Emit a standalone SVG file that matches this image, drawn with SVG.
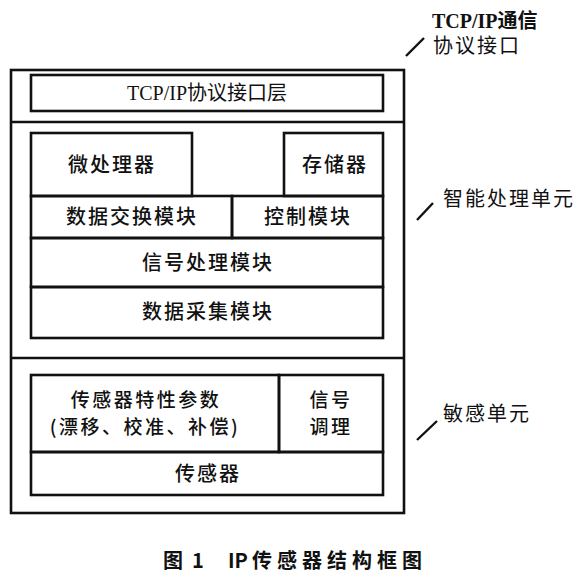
<svg xmlns="http://www.w3.org/2000/svg" width="580" height="580" viewBox="0 0 580 580">
<style>
.box{fill:none;stroke:#111;stroke-width:2.6}
.ln{stroke:#111;stroke-width:2.4;fill:none}
.t{font-family:"Noto Sans CJK SC","Noto Sans",sans-serif;font-size:20px;font-weight:500;fill:#111;text-anchor:middle;letter-spacing:2px}
.t2{font-family:"Noto Sans CJK SC","Noto Sans",sans-serif;font-size:19px;font-weight:500;fill:#111;text-anchor:middle;letter-spacing:2.5px}
.s{font-family:"Liberation Serif","Noto Sans CJK SC",serif;font-size:20px;fill:#111}
.lb{font-family:"Noto Sans CJK SC","Noto Sans",sans-serif;font-size:20px;fill:#111;letter-spacing:2px}
.cap{font-family:"Noto Sans CJK SC","Noto Sans",sans-serif;font-size:20px;font-weight:700;fill:#111}
</style>
<rect width="580" height="580" fill="#fff"/>
<g id="outer">
<rect class="box" x="11" y="70" width="393" height="443"/>
<line class="ln" x1="11" y1="122" x2="404" y2="122"/>
<line class="ln" x1="11" y1="358" x2="404" y2="358"/>
</g>
<g id="tcp-layer">
<rect class="box" x="31" y="75" width="352" height="36"/>
<text class="s" x="207" y="100" text-anchor="middle">TCP/IP协议接口层</text>
</g>
<g id="mcu">
<rect class="box" x="31" y="133" width="161" height="63"/>
<text class="t" x="112" y="172">微处理器</text>
</g>
<g id="memory">
<rect class="box" x="284" y="133" width="99" height="63"/>
<text class="t" x="335" y="172">存储器</text>
</g>
<g id="data-exchange">
<rect class="box" x="31" y="196" width="201" height="42"/>
<text class="t" x="132" y="224">数据交换模块</text>
</g>
<g id="control">
<rect class="box" x="232" y="196" width="151" height="42"/>
<text class="t" x="308" y="224">控制模块</text>
</g>
<g id="signal-proc">
<rect class="box" x="31" y="238" width="352" height="49"/>
<text class="t" x="208" y="270">信号处理模块</text>
</g>
<g id="data-acq">
<rect class="box" x="31" y="287" width="352" height="51"/>
<text class="t" x="208" y="319">数据采集模块</text>
</g>
<g id="sensor-params">
<rect class="box" x="31" y="375" width="248" height="77"/>
<text class="t2" x="146" y="407">传感器特性参数</text>
<text class="t2" x="145" y="434">(漂移、校准、补偿)</text>
</g>
<g id="signal-cond">
<rect class="box" x="279" y="375" width="104" height="77"/>
<text class="t2" x="331" y="407">信号</text>
<text class="t2" x="331" y="434">调理</text>
</g>
<g id="sensor">
<rect class="box" x="31" y="452" width="352" height="43"/>
<text class="t" x="208" y="481">传感器</text>
</g>
<g id="connectors">
<line class="ln" x1="406" y1="56" x2="424" y2="38"/>
<line class="ln" x1="417" y1="220" x2="433" y2="203"/>
<line class="ln" x1="417" y1="440" x2="437" y2="421"/>
</g>
<g id="labels">
<text class="s" x="432" y="28" font-weight="700">TCP/IP通信</text>
<text class="lb" x="433" y="53">协议接口</text>
<text class="lb" x="443" y="206">智能处理单元</text>
<text class="lb" x="443" y="421">敏感单元</text>
</g>
<g id="caption">
<text class="cap" x="163" y="568">图</text>
<text class="cap" x="192" y="568">1</text>
<text class="cap" x="228" y="568">IP</text>
<text class="cap" x="252" y="568" letter-spacing="5">传感器结构框图</text>
</g>
</svg>
